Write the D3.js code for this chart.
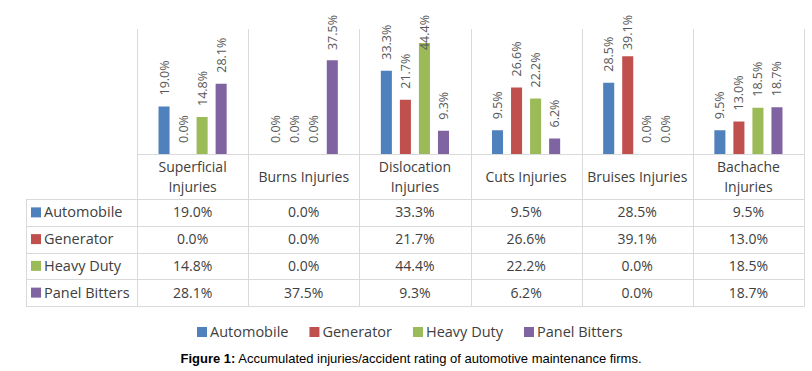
<!DOCTYPE html>
<html>
<head>
<meta charset="utf-8">
<script src="https://cdn.jsdelivr.net/npm/d3@7"></script>
<style>
  body { margin: 0; background: #fff; }
  svg { display: block; }
</style>
</head>
<body>
<div id="chart"></div>
<script>
// injury chart with data table underneath (Excel style)

// categories (two lines where the original wraps)
const categories = ['Superficial Injuries', 'Burns Injuries', 'Dislocation Injuries', 'Cuts Injuries', 'Bruises Injuries', 'Bachache Injuries'];
const categoryLines = [['Superficial', 'Injuries'], ['Burns Injuries'], ['Dislocation', 'Injuries'], ['Cuts Injuries'], ['Bruises Injuries'], ['Bachache', 'Injuries']];

const seriesNames = ['Automobile', 'Generator', 'Heavy Duty', 'Panel Bitters'];

// values in %, one array per series, same order as categories
const automobile   = [19.0, 0.0, 33.3, 9.5, 28.5, 9.5];
const generator    = [0.0, 0.0, 21.7, 26.6, 39.1, 13.0];
const heavyDuty    = [14.8, 0.0, 44.4, 22.2, 0.0, 18.5];
const panelBitters = [28.1, 37.5, 9.3, 6.2, 0.0, 18.7];

const yTicks = [0, 50]; // value range of the hidden axis

const captionBold = 'Figure 1:';
const captionText = ' Accumulated injuries/accident rating of automotive maintenance firms.';

const CONFIG = {
    WIDTH: 812,
    HEIGHT: 371,

    PLOT_LEFT: 137,
    PLOT_RIGHT: 804,
    PLOT_TOP: 29,
    AXIS_Y: 154,
    TABLE_TOP: 199,
    TABLE_BOTTOM: 306,
    TABLE_LEFT: 26,

    COLORS: ['#4f81bd', '#c0504d', '#9bbb59', '#8064a2'],
    GRID_COLOR: '#d9d9d9',
    LABEL_COLOR: '#595959',
    TEXT_COLOR: '#404040',

    FONT: '"Open Sans", sans-serif',
};

const seriesValues = [automobile, generator, heavyDuty, panelBitters];

const svg = d3.select('#chart')
  .append('svg')
  .attr('width', CONFIG.WIDTH)
  .attr('height', CONFIG.HEIGHT);

// scales
const x = d3.scaleBand()
  .domain(categories)
  .range([CONFIG.PLOT_LEFT, CONFIG.PLOT_RIGHT]);

const xInner = d3.scaleBand()
  .domain(seriesNames)
  .range([0, x.bandwidth()])
  .paddingInner(0.42)
  .paddingOuter(1.13);

const y = d3.scaleLinear()
  .domain(d3.extent(yTicks))
  .range([CONFIG.AXIS_Y, CONFIG.PLOT_TOP]);

const rowY = d3.scaleBand()
  .domain(seriesNames)
  .range([CONFIG.TABLE_TOP, CONFIG.TABLE_BOTTOM]);

const color = d3.scaleOrdinal().domain(seriesNames).range(CONFIG.COLORS);

// flat list of bars
const bars = [];
seriesNames.forEach((name, si) => {
    categories.forEach((cat, ci) => {
        bars.push({ series: name, category: cat, value: seriesValues[si][ci] });
    });
});

/********************** GRID **********************/

const gGrid = svg.append('g').attr('class', 'grid')
  .attr('stroke', CONFIG.GRID_COLOR)
  .attr('stroke-width', 1)
  .attr('shape-rendering', 'crispEdges');

// column separators, from plot top through the table
const colEdges = categories.map(c => x(c)).concat([x.range()[1]]);
gGrid.selectAll('line.col')
  .data(colEdges)
  .join('line')
  .attr('class', 'col')
  .attr('x1', d => Math.round(d) + 0.5)
  .attr('x2', d => Math.round(d) + 0.5)
  .attr('y1', CONFIG.PLOT_TOP)
  .attr('y2', CONFIG.TABLE_BOTTOM);

// axis line
gGrid.append('line')
  .attr('x1', CONFIG.PLOT_LEFT).attr('x2', CONFIG.PLOT_RIGHT + 1)
  .attr('y1', y(0) + 0.5).attr('y2', y(0) + 0.5);

// table rows
const rowEdges = seriesNames.map(s => rowY(s)).concat([rowY.range()[1]]);
gGrid.selectAll('line.row')
  .data(rowEdges)
  .join('line')
  .attr('class', 'row')
  .attr('x1', CONFIG.TABLE_LEFT)
  .attr('x2', CONFIG.PLOT_RIGHT + 1)
  .attr('y1', d => Math.round(d) + 0.5)
  .attr('y2', d => Math.round(d) + 0.5);

// left border of row headers
gGrid.append('line')
  .attr('x1', CONFIG.TABLE_LEFT + 0.5).attr('x2', CONFIG.TABLE_LEFT + 0.5)
  .attr('y1', CONFIG.TABLE_TOP).attr('y2', CONFIG.TABLE_BOTTOM + 1);

/********************** BARS **********************/

const barX = d => x(d.category) + xInner(d.series);

svg.append('g')
  .selectAll('rect')
  .data(bars.filter(d => d.value > 0))
  .join('rect')
  .attr('x', barX)
  .attr('y', d => y(d.value))
  .attr('width', xInner.bandwidth())
  .attr('height', d => y(0) - y(d.value))
  .attr('fill', d => color(d.series));

// rotated value labels above each bar (clamped at the top like Excel does)
const gLabels = svg.append('g')
  .attr('font-family', CONFIG.FONT)
  .attr('font-size', 12.5)
  .attr('fill', CONFIG.LABEL_COLOR);

gLabels.selectAll('text')
  .data(bars)
  .join('text')
  .text(d => d.value.toFixed(1) + '%')
  .each(function(d) {
      const len = this.getComputedTextLength();
      const cx = barX(d) + xInner.bandwidth() / 2 + 4.5;
      const cy = Math.max(y(d.value) - 11, 15 + len);
      d3.select(this).attr('transform', `translate(${cx},${cy}) rotate(-90)`);
  });

/********************** TABLE **********************/

// category headers
const gCats = svg.append('g')
  .attr('font-family', CONFIG.FONT)
  .attr('font-size', 14)
  .attr('fill', CONFIG.TEXT_COLOR)
  .attr('text-anchor', 'middle');

gCats.selectAll('text')
  .data(categories)
  .join('text')
  .attr('x', d => x(d) + x.bandwidth() / 2)
  .each(function(d, i) {
      const lines = categoryLines[i];
      const midY = (CONFIG.AXIS_Y + CONFIG.TABLE_TOP) / 2;
      const top = midY - (lines.length - 1) * 10 + 5;
      d3.select(this).selectAll('tspan')
        .data(lines)
        .join('tspan')
        .attr('x', x(d) + x.bandwidth() / 2)
        .attr('y', (l, li) => top + li * 20)
        .text(l => l);
  });

// row headers with legend keys
const gRows = svg.append('g')
  .attr('font-family', CONFIG.FONT)
  .attr('font-size', 14)
  .attr('fill', CONFIG.TEXT_COLOR);

const rowHead = gRows.selectAll('g.rowhead')
  .data(seriesNames)
  .join('g')
  .attr('class', 'rowhead')
  .attr('transform', d => `translate(0,${rowY(d) + rowY.bandwidth() / 2})`);

rowHead.append('rect')
  .attr('x', 31).attr('y', -5)
  .attr('width', 10).attr('height', 10)
  .attr('fill', d => color(d));

rowHead.append('text')
  .attr('x', 44).attr('y', 5)
  .attr('font-size', 14.5)
  .text(d => d);

// cell values
gRows.selectAll('text.cell')
  .data(bars)
  .join('text')
  .attr('class', 'cell')
  .attr('text-anchor', 'middle')
  .attr('x', d => x(d.category) + x.bandwidth() / 2)
  .attr('y', d => rowY(d.series) + rowY.bandwidth() / 2 + 5)
  .text(d => d.value.toFixed(1) + '%');

/********************** LEGEND **********************/

const gLegend = svg.append('g')
  .attr('font-family', CONFIG.FONT)
  .attr('font-size', 14.5)
  .attr('fill', CONFIG.TEXT_COLOR);

let lx = 0;
seriesNames.forEach(name => {
    const item = gLegend.append('g').attr('transform', `translate(${lx},0)`);
    item.append('rect')
      .attr('x', 0).attr('y', -5)
      .attr('width', 10).attr('height', 10)
      .attr('fill', color(name));
    const t = item.append('text')
      .attr('x', 13).attr('y', 5)
      .text(name);
    lx += 13 + t.node().getComputedTextLength() + 21;
});
gLegend.attr('transform', 'translate(197,332)');

/********************** CAPTION **********************/

svg.append('text')
  .attr('x', 411)
  .attr('y', 363)
  .attr('text-anchor', 'middle')
  .attr('font-family', 'Arial, "Liberation Sans", sans-serif')
  .attr('font-size', 13)
  .attr('fill', '#000')
  .call(t => t.append('tspan').attr('font-weight', 'bold').text(captionBold))
  .call(t => t.append('tspan').text(captionText));
</script>
</body>
</html>
